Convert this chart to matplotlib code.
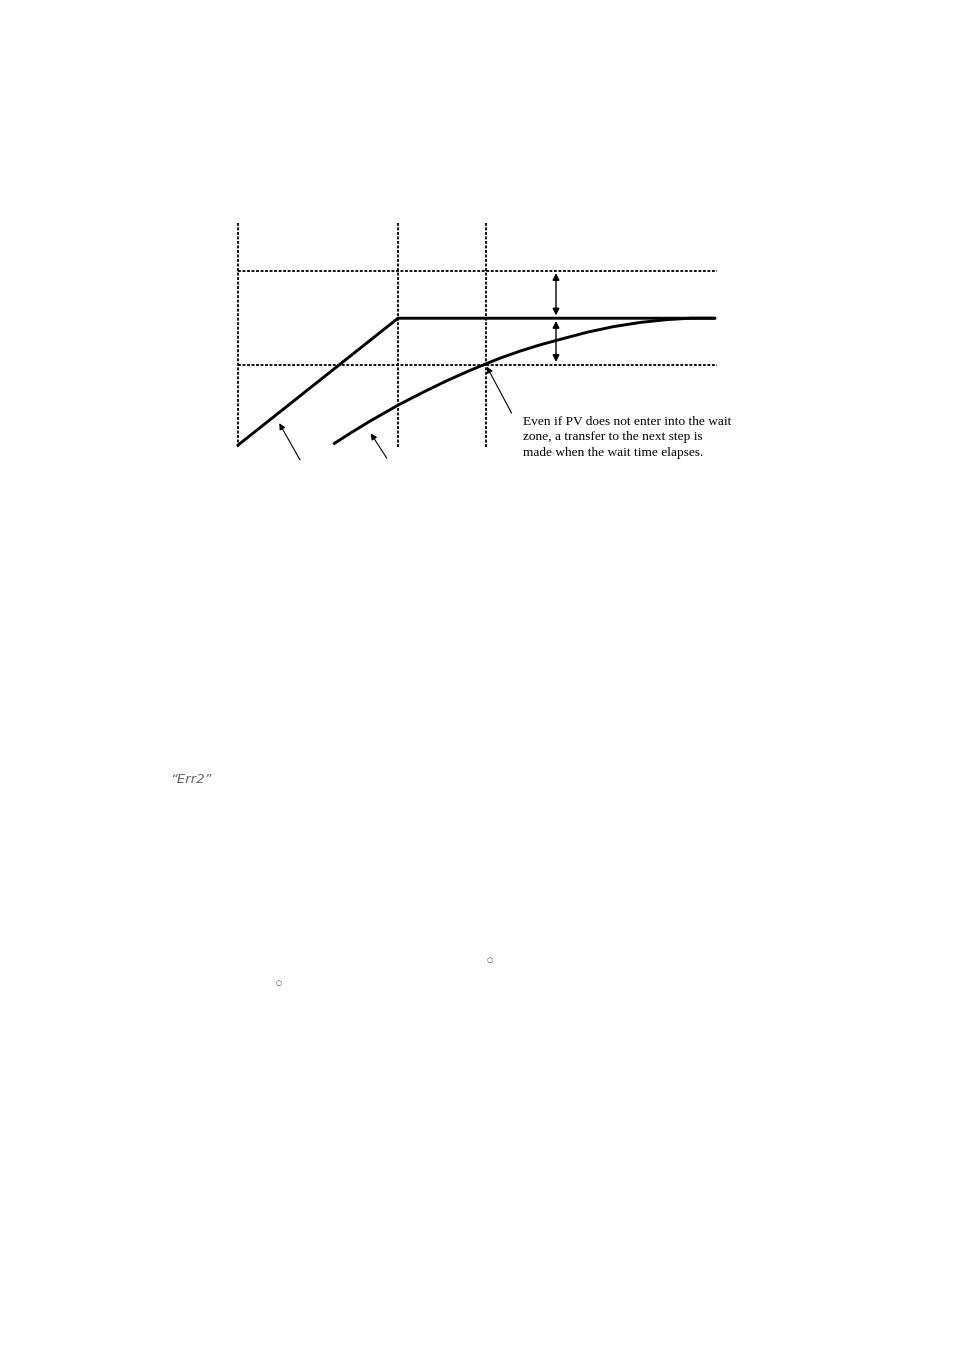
import matplotlib
matplotlib.use("Agg")
import matplotlib.pyplot as plt

# ---- data (time in minutes, temperature in degrees) ----
step_boundaries = [0.0, 20.0, 31.0]          # step start, step end (SP reached), wait time end
wait_zone = [90.0, 110.0]                    # SP - wait value, SP + wait value
sp_time = [0.0, 20.0, 59.6]
sp_value = [73.0, 100.0, 100.0]
pv_time = [11.9, 14.0, 16.5, 20.0, 23.2, 26.1, 29.0, 31.0, 32.75, 35.25,
           37.5, 39.84, 43.6, 46.9, 50.25, 53.6, 56.5, 59.6]
pv_value = [73.2, 75.5, 78.1, 81.5, 84.3, 86.7, 88.9, 90.3, 91.5, 93.0,
            94.2, 95.3, 97.0, 98.2, 99.1, 99.7, 100.0, 100.0]
note_lines = ["Even if PV does not enter into the wait",
              "zone, a transfer to the next step is",
              "made when the wait time elapses."]
err_text = "\u201cErr2\u201d"

W, H = 954, 1350
fig = plt.figure(figsize=(W / 100, H / 100), dpi=100)
fig.patch.set_facecolor("white")

# axes mapped onto chart region
x0, x1 = 238, 717
ytop, ybot = 223, 447
ax = fig.add_axes([x0 / W, 1 - ybot / H, (x1 - x0) / W, (ybot - ytop) / H])
ax.set_xlim(0, 59.875)
ax.set_ylim(72.6, 72.6 + (ybot - ytop) / 4.7)
ax.axis("off")

dot = (0, (1.6, 0.9))
for t in step_boundaries:
    ax.plot([t, t], ax.get_ylim(), color="black", lw=1.3, ls=dot, clip_on=False)
for v in wait_zone:
    ax.plot([0, 59.875], [v, v], color="black", lw=1.3, ls=dot, clip_on=False)

ax.plot(sp_time, sp_value, color="black", lw=2.1, solid_joinstyle="miter", clip_on=False)
ax.plot(pv_time, pv_value, color="black", lw=2.1, solid_joinstyle="round",
        solid_capstyle="butt", clip_on=False)

# double arrows for wait zone
xa = 39.75
arrow_kw = dict(arrowstyle="<|-|>", color="black", lw=1.0, mutation_scale=10,
                shrinkA=0, shrinkB=0)
ax.annotate("", xy=(xa, wait_zone[1] - 0.4), xytext=(xa, 100.6),
            arrowprops=arrow_kw, annotation_clip=False)
ax.annotate("", xy=(xa, 100 - 0.6), xytext=(xa, wait_zone[0] + 0.7),
            arrowprops=arrow_kw, annotation_clip=False)

# pointer arrows
ptr = dict(arrowstyle="-|>", color="black", lw=0.8, mutation_scale=9,
           shrinkA=0, shrinkB=0)
ax.annotate("", xy=(5.16, 77.66), xytext=(7.75, 69.85), arrowprops=ptr, annotation_clip=False)
ax.annotate("", xy=(16.6, 75.5), xytext=(18.6, 70.2), arrowprops=ptr, annotation_clip=False)
ax.annotate("", xy=(31.1, 89.7), xytext=(34.2, 79.8), arrowprops=ptr, annotation_clip=False)

# note text
note_y = [422, 437, 453]
for line, yp in zip(note_lines, note_y):
    fig.text(523 / W, 1 - yp / H, line, fontsize=9.6, family="Liberation Serif",
             ha="left", va="center", color="black")

# other page text fragments
fig.text(170 / W, 1 - 780 / H, err_text, fontsize=9.5, family="DejaVu Sans",
         style="italic", color="#666666", ha="left", va="center")
fig.text(490 / W, 1 - 960 / H, "\u25cb", fontsize=5, family="DejaVu Sans",
         color="#444444", ha="center", va="center")
fig.text(279 / W, 1 - 983 / H, "\u25cb", fontsize=5, family="DejaVu Sans",
         color="#444444", ha="center", va="center")

fig.savefig("out.png", dpi=100, facecolor="white")
